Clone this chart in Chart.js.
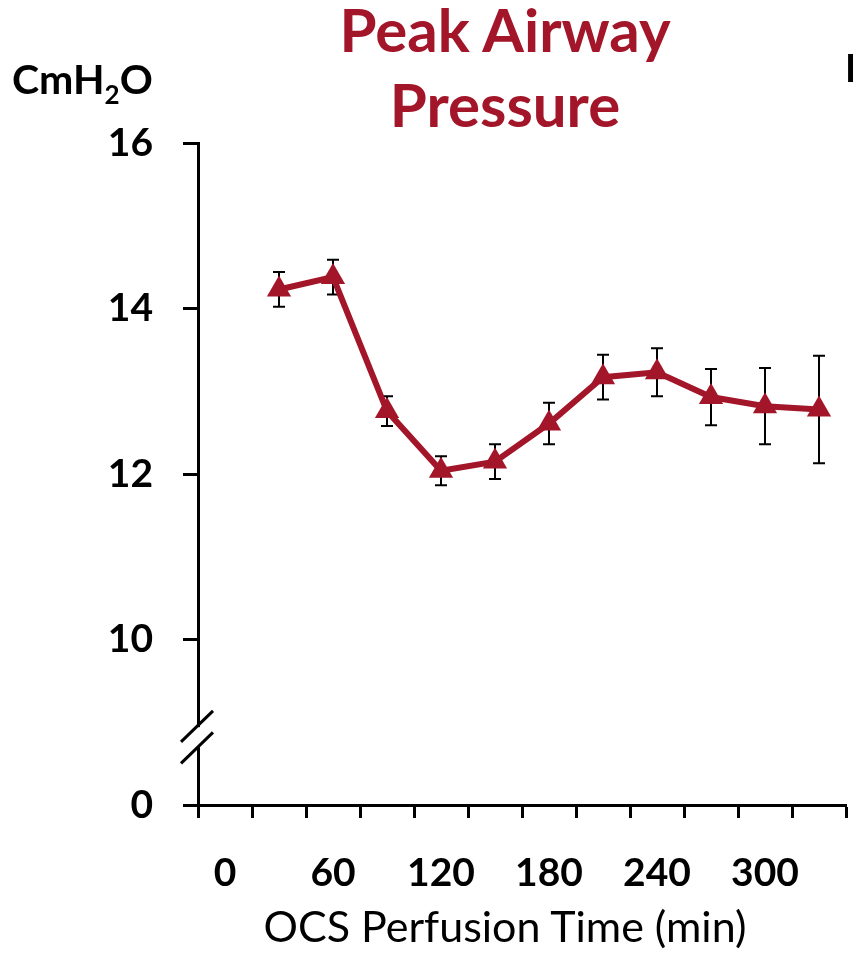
<!DOCTYPE html>
<html>
<head>
<meta charset="utf-8">
<title>Peak Airway Pressure</title>
<script src="https://cdn.jsdelivr.net/npm/chart.js@4.4.1/dist/chart.umd.min.js"></script>
<style>
  html, body { margin: 0; padding: 0; background: #fff; }
  #wrap { position: relative; width: 853px; height: 966px; overflow: hidden; font-family: Lato, sans-serif; }
  #wrap canvas { position: absolute; left: 0; top: 0; }
  .txt { position: absolute; white-space: nowrap; line-height: 1; color: #000; }
  #title { left: 505px; top: -8px; font-size: 60px; line-height: 75px; font-weight: bold; color: #A3162A; text-align: center; transform: translateX(-50%); }
  #unit { left: 12px; top: 58px; font-size: 41px; font-weight: bold; }
  #unit sub { font-size: 26px; vertical-align: baseline; position: relative; top: 10px; }
  #xtitle { left: 505px; top: 904px; font-size: 43px; transform: translateX(-50%); }
  #nextPanel { left: 845px; top: 48px; font-size: 38px; font-weight: bold; }
</style>
</head>
<body>
<div id="wrap">
  <canvas id="chart" width="860" height="966"></canvas>
  <div class="txt" id="title">Peak Airway<br>Pressure</div>
  <div class="txt" id="unit">CmH<sub>2</sub>O</div>
  <div class="txt" id="xtitle">OCS Perfusion Time (min)</div>
  <div class="txt" id="nextPanel">D</div>
</div>
<script>
// perfusion time categories (min), first slot has no measurement
const perfusionTimes = ['0', '30', '60', '90', '120', '150', '180', '210', '240', '270', '300', '330'];
const xTickLabels = ['0', '60', '120', '180', '240', '300'];

// peak airway pressure, cmH2O (mean and error)
const peakPressure = [null, 14.23, 14.38, 12.76, 12.04, 12.15, 12.61, 13.17, 13.23, 12.93, 12.82, 12.78];
const peakPressureErr = [null, 0.21, 0.21, 0.18, 0.175, 0.21, 0.25, 0.27, 0.29, 0.34, 0.46, 0.65];

// y axis is broken: the bottom tick stands for 0
const yTickValues = [8, 10, 12, 14, 16];
const yTickLabels = ['0', '10', '12', '14', '16'];
const breakValue = 8.82;

const RED = '#A3162A';

Chart.defaults.font.family = 'Lato, sans-serif';

const errorBars = {
    id: 'errorBars',
    beforeDatasetsDraw(chart) {
        const { ctx, scales: { x, y } } = chart;
        ctx.save();
        ctx.strokeStyle = '#000';
        ctx.lineWidth = 2;
        peakPressure.forEach((v, i) => {
            if (v == null) return;
            const px = x.getPixelForValue(i);
            const top = y.getPixelForValue(v + peakPressureErr[i]);
            const bot = y.getPixelForValue(v - peakPressureErr[i]);
            ctx.beginPath();
            ctx.moveTo(px, top); ctx.lineTo(px, bot);
            ctx.moveTo(px - 6, top); ctx.lineTo(px + 6, top);
            ctx.moveTo(px - 6, bot); ctx.lineTo(px + 6, bot);
            ctx.stroke();
        });
        ctx.restore();
    }
};

const axisBreak = {
    id: 'axisBreak',
    afterDraw(chart) {
        const { ctx, chartArea, scales: { y } } = chart;
        const ax = chartArea.left;
        const yc = y.getPixelForValue(breakValue);
        ctx.save();
        ctx.fillStyle = '#fff';
        ctx.fillRect(ax - 3, yc - 10, 6, 20);
        ctx.strokeStyle = '#000';
        ctx.lineWidth = 3;
        [-10.7, 10.7].forEach(dy => {
            ctx.beginPath();
            ctx.moveTo(ax - 17, yc + dy + 15.5);
            ctx.lineTo(ax + 15, yc + dy - 15.5);
            ctx.stroke();
        });
        ctx.restore();
    }
};

const ctx = document.getElementById('chart').getContext('2d');
new Chart(ctx, {
    type: 'line',
    data: {
        labels: perfusionTimes,
        datasets: [{
            label: 'Peak Airway Pressure',
            data: peakPressure,
            borderColor: RED,
            backgroundColor: RED,
            borderWidth: 6,
            tension: 0,
            pointStyle: 'triangle',
            pointRadius: 14,
            pointBorderWidth: 0,
            pointBackgroundColor: RED
        }]
    },
    options: {
        responsive: false,
        animation: false,
        layout: { padding: { left: 0, right: 2, top: 143, bottom: 0 } },
        plugins: {
            legend: { display: false },
            tooltip: { enabled: false },
            title: { display: false }
        },
        scales: {
            x: {
                offset: true,
                grid: { offset: true, drawOnChartArea: false, tickLength: 13, tickWidth: 3, tickColor: '#000' },
                border: { color: '#000', width: 3 },
                ticks: {
                    autoSkip: false,
                    maxRotation: 0,
                    padding: 32,
                    color: '#000',
                    font: { size: 39, weight: 'bold' },
                    callback: (value, index) => xTickLabels.includes(perfusionTimes[index]) ? perfusionTimes[index] : ''
                },
                afterFit: s => { s.height = 161; }
            },
            y: {
                min: 8,
                max: 16,
                afterBuildTicks: s => { s.ticks = yTickValues.map(v => ({ value: v })); },
                grid: { drawOnChartArea: false, tickLength: 15, tickWidth: 3, tickColor: '#000' },
                border: { color: '#000', width: 3 },
                ticks: {
                    padding: 30,
                    color: '#000',
                    font: { size: 39, weight: 'bold' },
                    callback: (value, index) => yTickLabels[index]
                },
                afterFit: s => { s.width = 198; }
            }
        }
    },
    plugins: [errorBars, axisBreak]
});
</script>
</body>
</html>
